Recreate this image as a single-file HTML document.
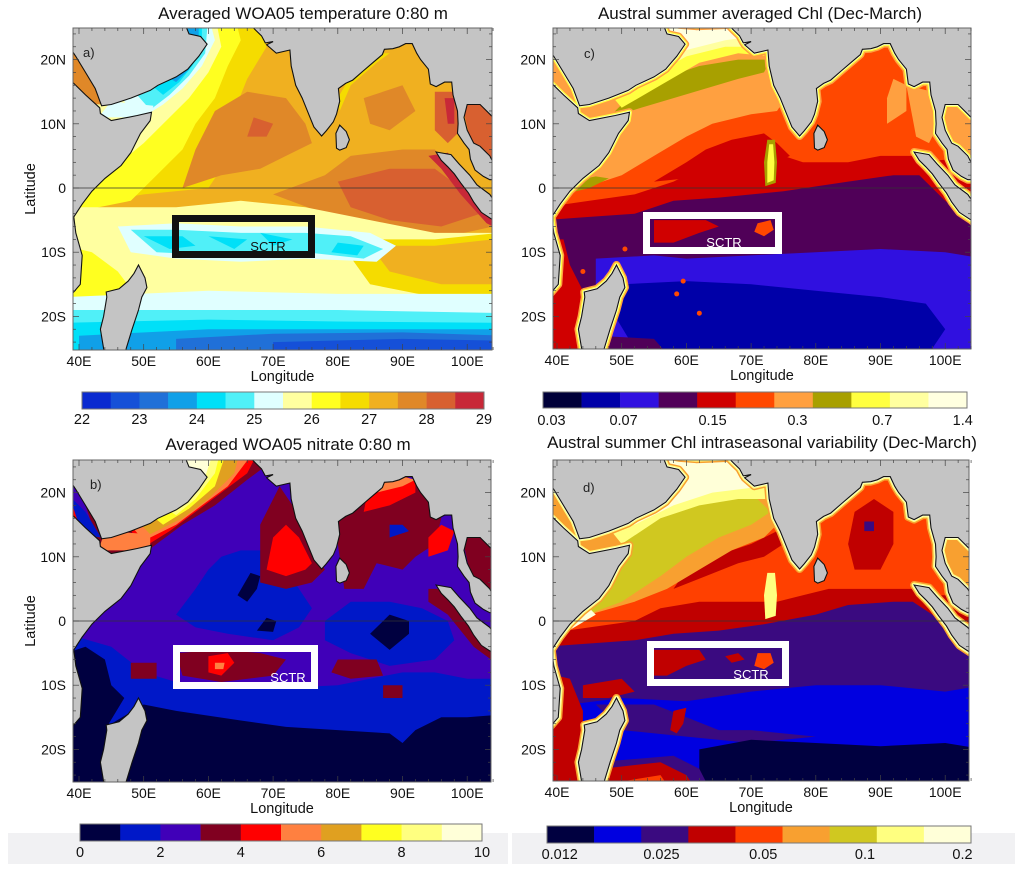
<!DOCTYPE html>
<html><head><meta charset="utf-8"><style>
html,body{margin:0;padding:0;background:#fff;}
svg{display:block;font-family:"Liberation Sans",Arial,sans-serif;}
</style></head><body>
<svg id="fig" width="1021" height="874" viewBox="0 0 1021 874" xmlns="http://www.w3.org/2000/svg">
<rect x="8" y="833" width="500" height="31" fill="#f1f1f3"/>
<rect x="512" y="833" width="503" height="31" fill="#f1f1f3"/>
</svg>
<script>
// ---- colorbar data ----
const tempColors = ["#0a2ad0","#1550d8","#2070d8","#10a0e8","#00e0f8","#50f0f8","#e0ffff","#ffffa0","#ffff20","#f5dc00","#f0b020","#e08828","#d86030","#c82838"];
const tempTicks = ["22","23","24","25","26","27","28","29"];
const chlColors = ["#000038","#0000a8","#3010e0","#500058","#d00000","#ff4800","#ffa040","#a8a000","#ffff40","#ffffa0","#ffffe0"];
const chlTicks = ["0.03","0.07","0.15","0.3","0.7","1.4"];
const chlTickPos = [0.02,0.19,0.40,0.60,0.80,0.99];
const no3Colors = ["#000040","#0018c8","#4000b8","#800020","#ff0000","#ff8040","#e0a020","#ffff20","#ffff80","#ffffd8"];
const no3Ticks = ["0","2","4","6","8","10"];
const varColors = ["#000040","#0000e0","#3a0a80","#c00000","#ff4000","#f8a030","#d0c820","#ffff80","#ffffd8"];
const varTicks = ["0.012","0.025","0.05","0.1","0.2"];
const varTickPos = [0.03,0.27,0.51,0.75,0.98];
const lonTicks = [40,50,60,70,80,90,100];
const latTicks = [20,10,0,-10,-20];

const NS="http://www.w3.org/2000/svg";
const svg=document.getElementById('fig');
function mk(tag,attrs,parent){const e=document.createElementNS(NS,tag);for(const k in attrs)e.setAttribute(k,attrs[k]);(parent||svg).appendChild(e);return e;}

const panels={
 a:{x0:79,y0:188,L:73,R:492,T:28,B:350,pal:tempColors,bg:10,title:"Averaged WOA05 temperature 0:80 m",tx:303,ty:19,lat:true},
 c:{x0:557,y0:188,L:553,R:971,T:28,B:349,pal:chlColors,bg:3,title:"Austral summer averaged Chl (Dec-March)",tx:760,ty:19,lat:false},
 b:{x0:79,y0:621,L:73,R:491,T:460,B:782,pal:no3Colors,bg:2,title:"Averaged WOA05 nitrate 0:80 m",tx:288,ty:450,lat:true},
 d:{x0:557,y0:621,L:553,R:969,T:460,B:781,pal:varColors,bg:2,title:"Austral summer Chl intraseasonal variability (Dec-March)",tx:762,ty:448,lat:false}
};
const SX=6.47,SY=6.42;
function px(p,lon){return p.x0+(lon-40)*SX;}
function py(p,lat){return p.y0-lat*SY;}
function pts(p,s){return s.trim().split(/\s+/).map(t=>{const [a,b]=t.split(',').map(Number);return px(p,a).toFixed(1)+','+py(p,b).toFixed(1);}).join(' ');}

const land={
 africa:"30,-27 36,-22 38.5,-17 40.2,-15 40.5,-10.5 39.5,-7 39.2,-4.5 40.5,-2.5 42,-0.5 44,1.5 46.5,3.5 48,5.5 49.5,8.5 51,10.5 51.2,11.8 49,11.3 45,10.5 43.3,11.6 43.2,12.5 41,14.5 39,16.5 38,17.5 30,18",
 arabia:"30,27 30,24 38,24 38.5,22 39.5,20.5 41,18 42.5,15.5 43.5,12.8 45,13 48,14 51,15.2 52.2,16 55,17.3 56.8,18.5 57.8,19.7 58.5,20.5 59.8,22.4 58.8,23.6 57,24 56.4,25.5 56.6,27",
 asia:"56.8,27 57,25.8 59,25.4 61.5,25.2 64,25.3 66.5,25.4 67.3,24.6 68.2,23.7 68.8,22.6 70,22.8 69,22.3 70.5,21 72.6,21.5 72.8,19 73.5,16 74.5,14 75.5,11.5 76.3,9.5 77.5,8.1 78.2,8.9 79.3,10.3 79.8,11.5 80.3,13.5 80.1,15.5 81.2,16.3 82.3,16.8 84,18.3 85.5,19.6 86.9,20.8 87.2,21.6 88.5,21.7 89.5,22 90.5,22.5 91.5,22.5 92.2,21 92.8,20 94,18.5 94.3,16.2 95.2,15.8 96.5,16.5 97.6,16.5 97.8,14.5 98.5,12 98.6,10 98.5,8.5 99.5,7 100.3,6 100.5,4.5 101.2,2.8 102.5,1.8 103.5,1.3 104.5,1.3 106,1.3 106,3 104.5,3 103.5,5 102,6.5 101,7 100,9 99.5,11 100,13 102,13 104,11 106,10 106,27",
 sumatra:"95.2,5.6 97.5,5.2 98.7,3.8 100.4,2 101.5,0.5 103.5,-1 104.5,-2.5 106,-3 106,-6 105,-5.9 104,-5 102.2,-3.8 101,-2.2 100.2,-0.8 99,0.8 98,2.2 97,3.3 96,4.3",
 srilanka:"79.8,6.2 80.3,5.9 81.3,6.3 81.8,7.5 81.3,8.8 80.3,9.8 79.7,8.5",
 madagascar:"49.2,-12 50.2,-14 50.5,-15.5 49.7,-17 49.2,-19 48.2,-22 47.3,-25 47,-27 44,-27 43.8,-25 43.3,-22 43.8,-20 44.3,-17 44.2,-16.2 46.2,-15.7 47.6,-14.5 48.5,-13.3"
};

const layersA=[
[9,"38,-3 50,-1 60,0 62,3 62,8 64,12 66,17 69,22 67,27 38,27"],
[8,"38,-4 48,-2 52,2 56,6 58,10 61,14 63,19 65,23 64,27 38,27"],
[7,"44,2 50,7 54,11 57,14 60,18 62,22 61,27 38,27"],
[6,"49,10.5 53,13 56,15.5 59,19 61,23 60,27 38,27"],
[5,"51,12.2 54,14.5 57,17.5 59.5,21 60,27 38,27"],
[4,"53,14.5 55.5,16.5 57.5,19 59,22 59,27 38,27"],
[3,"55,16.5 57,18.5 58.5,21 58.5,27 38,27"],
[11,"36,13.5 43.4,13 42,18 38,26 36,26"],
[6,"43,11 51,11 51.5,12.8 45,13.5"],
[11,"56,0 62,2 68,3 72,5 76,7 75,10 72,14 66,15 61,12 58,6"],
[12,"66,8 69,8 70,10 67,11"],
[11,"70,-1 78,2 82,5 90,6 95,6 98,3 103,-3 104,-6 95,-8 85,-6 78,-4"],
[12,"80,1 88,3 95,3 99,0 102,-4 96,-6 88,-5 82,-3"],
[11,"84,14 90,16 92,12 88,9 85,10"],
[9,"80.3,12 82,16 86,19.5 88,21 86,21 82,17.5 80,14"],
[13,"94,5 97,5.5 101,1 105,-4 105,-6.5 103,-5.5 99,-1 96,3"],
[12,"95,15 98.5,15 99,9 97,7 95,9"],
[13,"96.5,14 98,14 98,10 97,10"],
[12,"99,14 106,14 106,4 101,5"],
[7,"38,-3 55,-3 65,-2 75,-3 85,-5 95,-7 106,-7 106,-27 38,-27"],
[9,"80,-8 95,-8 105,-7 105,-17 95,-17 85,-15"],
[10,"85,-9 95,-9 104,-8 105,-15 96,-15 88,-13"],
[8,"38,-9 42,-10 46,-13 49,-17 46,-21 40,-21 38,-16"],
[6,"46,-6 55,-5.5 65,-6 75,-6 85,-7 89,-9 86,-11.5 75,-11 65,-11.5 55,-11 48,-10"],
[5,"48,-6.5 55,-6.5 65,-7 75,-7 82,-7.5 87,-9.5 84,-11 75,-10 62,-10.5 52,-10"],
[4,"50,-7.5 56,-7.5 58,-9 54,-9.5"],[4,"60,-7.5 66,-8 64,-9.5"],[4,"68,-7 73,-8 70,-9"],[4,"80,-8.5 84,-9 83,-10.5 79,-10"],
[6,"38,-17 60,-16 80,-16.5 106,-16.5 106,-27 38,-27"],
[5,"38,-19 60,-19 80,-19 106,-19.5 106,-27 38,-27"],
[4,"38,-21 60,-20.5 80,-20.8 106,-21 106,-27 38,-27"],
[3,"40,-23 60,-22 80,-22 106,-22 106,-27 40,-27"],
[2,"55,-23.5 70,-22.7 90,-22.5 106,-23 106,-27 55,-27"],
[1,"70,-24 90,-23.5 106,-23.8 106,-27 70,-27"]
];
const layersC=[
[4,"38,-5 45,-4.5 52,-4 58,-2 65,-1.5 75,-0.5 85,1 92,2 96,2 100,-2 104,-5 106,-8 106,27 38,27"],
[5,"38,-3 45,-2 52,-1 58,1 62,3 65,4 70,4 75,5 78,4 85,4 90,5 95,5 96,4 106,5 106,27 38,27"],
[4,"55,1 60,4 63,6 67,7.5 72,8.5 74,7 76,5 72,3 65,2"],
[6,"38,-2 44,0 50,2 55,5 60,8 64,10 70,11.5 74,12 76,15 74,20 70,27 38,27"],
[7,"41,-1 45,0 48,1.5 46,1.8 42,1"],
[7,"48,11 53,12.5 58,14 63,15.5 68,17 72,18 73,20 68,20 62,19 56,17 51,14"],
[8,"50,12.5 56,16 62,19.5 68,21 73,20.5 74,24 70,27 38,27"],
[9,"54,17 60,20.5 66,22 73,22 74,27 38,27"],
[10,"58,21 66,23 73,24 74,27 38,27"],
[7,"72.2,0.3 73.8,0.8 74,4 73.7,7.5 72.5,7.5 72,4"],
[8,"72.5,0.8 73.5,1.2 73.6,4 73.4,6.8 72.8,6.8 72.5,4"],
[6,"94,16 98,15 98.5,9 97.5,7 95.5,8"],
[6,"91,10 94,12 94,16 92,17 91,14"],
[6,"99,14 106,14 106,4 101,5"],
[4,"38,-8 41,-8 42,-12 44,-16 43,-22 44,-27 38,-27"],
[2,"46,-11 55,-10.5 60,-11 70,-10.5 80,-10 90,-9.5 100,-10 106,-11 106,-27 46,-27"],
[1,"50,-15 60,-14.5 70,-15 80,-16 90,-17 97,-18 100,-22 98,-25 90,-27 60,-27 52,-25 49,-20"],
[3,"46,-23 55,-23.5 58,-27 46,-27"],
[4,"55,-5 63,-5 65,-6 62,-7 58,-8.5 55,-8.5"],
[5,"71,-5.5 73,-5 73.5,-6.5 72,-7.5 70.5,-6.8"]
];
const layersB=[
[1,"38,-2 45,-4 50,-8 55,-9.5 60,-10 70,-10.5 80,-10 85,-9 90,-8 95,-8 100,-9 106,-9 106,-27 38,-27"],
[0,"38,-16 45,-16 50,-13 55,-14 65,-15.5 72,-16.5 80,-17 88,-17.5 90,-19 92,-17 96,-15 100,-15 106,-14.5 106,-27 38,-27"],
[0,"38,-5 41,-4 44,-6 45,-10 47,-12 44,-17 38,-18"],
[1,"55,1 58,5 60,8 62,10 65,11 70,11 72,8 74,5 76,2 74,-1 70,-3 63,-2 58,-1"],
[1,"78,0 82,3 88,3 93,2 97,0 98,-3 95,-6 88,-7 82,-5 78,-3"],
[0,"64.5,4 66.5,7.5 68,7 67.5,5 66,3"],[0,"67.5,-1.5 70,-1.7 70.5,0 69,0.5"],[0,"85,-2 88,1 91,0 91,-2 88,-4.5"],
[3,"45,6 48,9 52,12 56,15 61,18 66,22 70,25 71,27 38,27"],
[4,"50,11.5 54,14 58,17 62,20 66,23 68,27 38,27"],
[5,"50,12.5 55,15 59,18 63,21 66,25 66,27 38,27"],
[6,"51,13.5 56,16 60,19 64,23 65,27 38,27"],
[7,"53,15 57,17.5 61,21 63,27 38,27"],
[8,"55,16.5 58,19 61,23 62,27 38,27"],
[9,"56,18 59,21 61,27 38,27"],
[5,"43,11 51,11 51,13.5 44,14"],
[1,"36,14 43.4,13 41,17 38,20 36,20"],[4,"36,15 40,15 39,18 36,18"],
[3,"68,6 72,5 76,6 78,8 75,13 73,18 71,21 68,15"],
[4,"69,8 72,7 75,8 76,9 74,13 72,15 70,13"],
[3,"81,5 84,5 86,9 90,8 92,10 95,12 96,16 94,20 90,23 80,23 80,12"],
[4,"84,17 88,18 90,19 92,20 92,22 85,22"],[5,"86,20 90,21 92,22 88,23"],
[1,"88,13 91,14 90,15 88,15"],[4,"94,10 97,11 98,14 96,15 94,13"],
[3,"99,14 106,14 106,4 101,5"],
[3,"94,5 97,5 101,1 105,-4 105,-7 101,-4 97,1 94,3"],
[3,"55,-5 62,-4.5 68,-5 72,-6 70,-8.5 62,-9.5 56,-8.5"],
[4,"60,-5.5 63,-5 64,-6.5 62,-8.5 60,-8"],[5,"61,-6.5 62.5,-6.5 62.3,-7.5 61,-7.5"],
[3,"48,-6.5 52,-6.5 52,-9 48,-9"],[3,"80,-6 86,-6 87,-8.5 82,-9 79,-8"],[3,"87,-10 90,-10 90,-12 87,-12"]
];
const layersD=[
[3,"38,-4 45,-3.5 52,-3 58,-2 65,-1.5 72,-0.5 80,1 85,2.5 92,3 95,3 98,1 102,-3 104,-5 106,-6 106,27 38,27"],
[4,"38,-2 45,-1 52,0 56,2 62,3 66,3 70,3 74,3 78,4 82,5 88,5 95,5 96,4 106,4 106,27 38,27"],
[3,"58,5 63,7 68,9 72,10 75,12 74,14 70,12 64,10 60,8"],
[5,"38,-1 45,1 52,3 57,5 62,8 67,11 72,13 75,16 74,20 70,27 38,27"],
[6,"42,0 50,3 56,7 60,10 65,13 70,15 73,17 70,20 60,18 52,14 46,9 42,4"],
[7,"50,12 56,16 62,18 68,19 73,19 73,27 38,27"],
[8,"52,15 58,18 64,20 72,21 74,27 38,27"],
[8,"41,-2 46,1 44,3 41,1"],
[7,"72.2,0.3 73.8,0.8 74,4 73.7,7.5 72.5,7.5 72,4"],
[3,"86,8 90,8 92,12 92,17 89,19 86,17 85,12"],[2,"87.5,14 89,14 89,15.5 87.5,15.5"],
[5,"99,14 106,14 106,4 101,5"],
[1,"42,-13 50,-12 60,-12.5 70,-11 80,-10 90,-10 100,-11 106,-10 106,-27 42,-27"],
[2,"46,-13 55,-13 60,-15 65,-17 70,-17 80,-18 70,-19 60,-18 50,-17"],
[0,"62,-20 70,-18.5 80,-19 90,-19.5 100,-19 106,-20 106,-27 62,-27"],
[2,"46,-22 58,-21 62,-23 64,-27 46,-27"],
[3,"47,-23 56,-22 60,-24 62,-27 47,-27"],[4,"50,-25 56,-24 58,-27 50,-27"],
[3,"38,-8 42,-9 44,-14 44,-18 43,-22 44,-27 38,-27"],
[3,"55,-4.5 62,-4.5 63,-6 60,-7 57,-8.5 55,-8.5"],[3,"66,-5.5 68,-5 69,-6 67,-6.5"],
[4,"71,-5 73,-5 73.5,-6.5 72,-7.5 70.5,-7"],
[3,"44,-10 50,-9 52,-11 48,-12 44,-12"],[3,"58,-14 60,-13.5 59.5,-16 58.5,-17.5 57.5,-17"]
];
const layers={a:layersA,b:layersB,c:layersC,d:layersD};
const coastStrokes={c:[[6,8],[8,5],[10,2.5]],d:[[5,8],[7,5],[8,2.5]]};
const boxes={a:[175.5,218.5,136,36,"#111","#111",268,251],c:[646.5,215.5,132,35,"#fff","#fff",724,247],
 b:[176.5,648.5,138,37,"#fff","#fff",288,682],d:[650.5,644.5,135,38,"#fff","#fff",751,679]};
const letters={a:[83,57],c:[584,58],b:[90,489],d:[583,492]};

for(const id of ["a","c","b","d"]){
 const p=panels[id];
 const clip=mk('clipPath',{id:'clip'+id});
 mk('rect',{x:p.L,y:p.T,width:p.R-p.L,height:p.B-p.T},clip);
 const g=mk('g',{'clip-path':'url(#clip'+id+')'});
 
 
 mk('rect',{x:p.L,y:p.T,width:p.R-p.L,height:p.B-p.T,fill:p.pal[p.bg]},g);
 for(const [ci,s] of layers[id]){
  const poly=mk('polygon',{points:pts(p,s),fill:p.pal[ci]},g);
  
  
 }
 if(id==="c"){ for(const [lo,la] of [[50.5,-9.5],[59.5,-14.5],[58.5,-16.5],[62,-19.5],[44,-13]]) mk('circle',{cx:px(p,lo),cy:py(p,la),r:2.5,fill:p.pal[5]},g); }
 const strokes=coastStrokes[id]||[];
 for(const [ci,w] of strokes){
  for(const k in land){ if(k==="srilanka") continue; mk('polygon',{points:pts(p,land[k]),fill:'none',stroke:p.pal[ci],'stroke-width':w,'stroke-linejoin':'round'},g); }
 }
 for(const k in land){
  const lp=mk('polygon',{points:pts(p,land[k]),fill:'#c4c4c4',stroke:'#111','stroke-width':1.1},g);
  
  
 }
 const eq=mk('line',{x1:p.L,x2:p.R,y1:py(p,0),y2:py(p,0),stroke:'#333','stroke-width':0.8},g);
 
 
 const fr=mk('rect',{x:p.L,y:p.T,width:p.R-p.L,height:p.B-p.T,fill:'none',stroke:'#666','stroke-width':1});
 
 
 for(let lon=40;lon<=104;lon+=2){const x=px(p,lon),len=lon%10===0?6:3;
  mk('line',{x1:x,x2:x,y1:p.B,y2:p.B-len,stroke:'#444','stroke-width':0.7});
  mk('line',{x1:x,x2:x,y1:p.T,y2:p.T+len,stroke:'#444','stroke-width':0.7});}
 for(let lat=-24;lat<=24;lat+=2){const y=py(p,lat),len=lat%10===0?6:3;
  mk('line',{x1:p.L,x2:p.L+len,y1:y,y2:y,stroke:'#444','stroke-width':0.7});
  mk('line',{x1:p.R,x2:p.R-len,y1:y,y2:y,stroke:'#444','stroke-width':0.7});}
 for(const lon of lonTicks){
  const t=mk('text',{x:px(p,lon),y:p.B+16,'font-size':14,'text-anchor':'middle',fill:'#111'});
  t.textContent=lon+'E';
  
  
 }
 for(const lat of latTicks){
  const t=mk('text',{x:p.L-7,y:py(p,lat)+5,'font-size':14,'text-anchor':'end',fill:'#111'});
  t.textContent=lat===0?'0':(Math.abs(lat)+(lat>0?'N':'S'));
  
  
 }
 const xl=mk('text',{x:(p.L+p.R)/2,y:p.B+31,'font-size':14.5,'text-anchor':'middle',fill:'#111'});
 xl.textContent='Longitude';
 
 
 if(p.lat){
  const yl=mk('text',{x:0,y:0,'font-size':14.5,'text-anchor':'middle',fill:'#111',transform:'translate(35,'+((p.T+p.B)/2)+') rotate(-90)'});
  yl.textContent='Latitude';
  
  
 }
 const ti=mk('text',{x:p.tx,y:p.ty,'font-size':17,'text-anchor':'middle',fill:'#111'});
 ti.textContent=p.title;
 
 
 const lt=mk('text',{x:letters[id][0],y:letters[id][1],'font-size':13,fill:'#222'});
 lt.textContent=id+')';
 
 
 const bx=boxes[id];
 const br=mk('rect',{x:bx[0],y:bx[1],width:bx[2],height:bx[3],fill:'none',stroke:bx[4],'stroke-width':7});
 
 
 const bt=mk('text',{x:bx[6],y:bx[7],'font-size':13,'text-anchor':'middle',fill:bx[5]});
 bt.textContent='SCTR';
 
 
}

function colorbar(name,x,y,w,h,colors,ticks,pos,ly){
 const n=colors.length,sw=w/n;
 colors.forEach((c,i)=>{
  const r=mk('rect',{x:x+i*sw,y:y,width:sw+0.3,height:h,fill:c});
  
  
 });
 mk('rect',{x:x,y:y,width:w,height:h,fill:'none',stroke:'#777','stroke-width':1});
 ticks.forEach((t,i)=>{
  const tx=mk('text',{x:x+pos[i]*w,y:ly,'font-size':14.5,'text-anchor':'middle',fill:'#111'});
  tx.textContent=t;
  
  
 });
}
colorbar('colorbar-temperature',82,392,402,17,tempColors,tempTicks,tempTicks.map((t,i)=>i/(tempTicks.length-1)),424);
colorbar('colorbar-chl',543,392,424,16,chlColors,chlTicks,chlTickPos,425);
colorbar('colorbar-nitrate',80,824,402,17,no3Colors,no3Ticks,no3Ticks.map((t,i)=>i/(no3Ticks.length-1)),857);
colorbar('colorbar-variability',547,826,424,17,varColors,varTicks,varTickPos,859);
</script>
</body></html>
